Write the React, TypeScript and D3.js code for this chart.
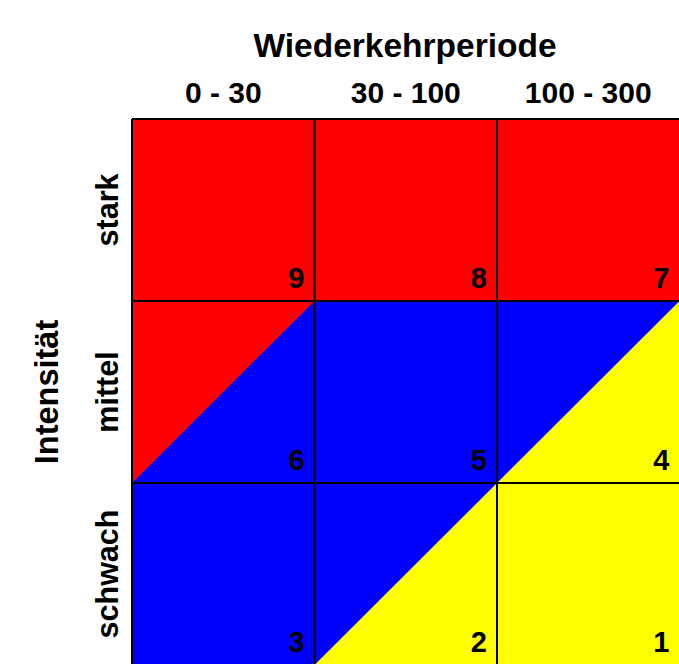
import React from "react";
import * as d3 from "d3";

const periods = ["0 - 30", "30 - 100", "100 - 300"];
const intensities = ["stark", "mittel", "schwach"];
// cell numbers by row (stark, mittel, schwach) and column
const cellNumbers = [
  [9, 8, 7],
  [6, 5, 4],
  [3, 2, 1],
];
// colour class of each cell: [upper-left triangle, lower-right triangle]
const cellClasses = [
  [["hoch", "hoch"], ["hoch", "hoch"], ["hoch", "hoch"]],
  [["hoch", "mittel"], ["mittel", "mittel"], ["mittel", "gering"]],
  [["mittel", "mittel"], ["mittel", "gering"], ["gering", "gering"]],
];
const classColors: Record<string, string> = {
  hoch: "#ff0000",
  mittel: "#0000ff",
  gering: "#ffff00",
};

const width = 679;
const height = 664;
const font = "'Liberation Sans', Arial, sans-serif";

export default function App() {
  const x = d3.scaleBand<string>().domain(periods).range([132, 679.5]);
  const y = d3.scaleBand<string>().domain(intensities).range([119, 665]);
  const bw = x.bandwidth();
  const bh = y.bandwidth();

  const cells: any[] = [];
  intensities.forEach((row, ri) => {
    periods.forEach((col, ci) => {
      const x0 = x(col)!;
      const y0 = y(row)!;
      const x1 = x0 + bw;
      const y1 = y0 + bh;
      const [upper, lower] = cellClasses[ri][ci];
      cells.push({ key: `${ri}-${ci}`, x0, y0, x1, y1, upper, lower, n: cellNumbers[ri][ci] });
    });
  });

  const line = d3.line();

  return (
    <svg
      width={width}
      height={height}
      style={{ position: "absolute", left: 0, top: 0, background: "#fff" }}
    >
      {cells.map((c) =>
        c.upper === c.lower ? (
          <rect
            key={c.key}
            x={c.x0}
            y={c.y0}
            width={c.x1 - c.x0}
            height={c.y1 - c.y0}
            fill={classColors[c.upper]}
          />
        ) : (
          <g key={c.key}>
            <path
              d={line([[c.x0, c.y0], [c.x1, c.y0], [c.x1, c.y1], [c.x0, c.y1]])! + "Z"}
              fill={classColors[c.lower]}
            />
            <path
              d={line([[c.x0, c.y1], [c.x0, c.y0], [c.x1, c.y0]])! + "Z"}
              fill={classColors[c.upper]}
            />
          </g>
        )
      )}
      {/* grid lines */}
      {x.domain().map((d) => (
        <line key={"v" + d} x1={x(d)!} x2={x(d)!} y1={119} y2={665} stroke="#000" strokeWidth={2} />
      ))}
      {y.domain().map((d) => (
        <line key={"h" + d} x1={132} x2={679.5} y1={y(d)!} y2={y(d)!} stroke="#000" strokeWidth={2} />
      ))}
      {cells.map((c) => (
        <text
          key={"n" + c.key}
          x={c.x1 - 10}
          y={c.y1 - 13}
          textAnchor="end"
          fontFamily={font}
          fontWeight="bold"
          fontSize={29}
          fill="#000"
        >
          {c.n}
        </text>
      ))}
      <text x={405} y={57} textAnchor="middle" fontFamily={font} fontWeight="bold" fontSize={33.5}>
        Wiederkehrperiode
      </text>
      {periods.map((p) => (
        <text
          key={p}
          x={x(p)! + bw / 2}
          y={103}
          textAnchor="middle"
          fontFamily={font}
          fontWeight="bold"
          fontSize={30}
        >
          {p}
        </text>
      ))}
      {intensities.map((r) => (
        <text
          key={r}
          transform={`translate(118,${y(r)! + bh / 2}) rotate(-90)`}
          textAnchor="middle"
          fontFamily={font}
          fontWeight="bold"
          fontSize={30.5}
        >
          {r}
        </text>
      ))}
      <text
        transform={`translate(58,${y("mittel")! + bh / 2}) rotate(-90)`}
        textAnchor="middle"
        fontFamily={font}
        fontWeight="bold"
        fontSize={32.5}
      >
        Intensität
      </text>
    </svg>
  );
}
